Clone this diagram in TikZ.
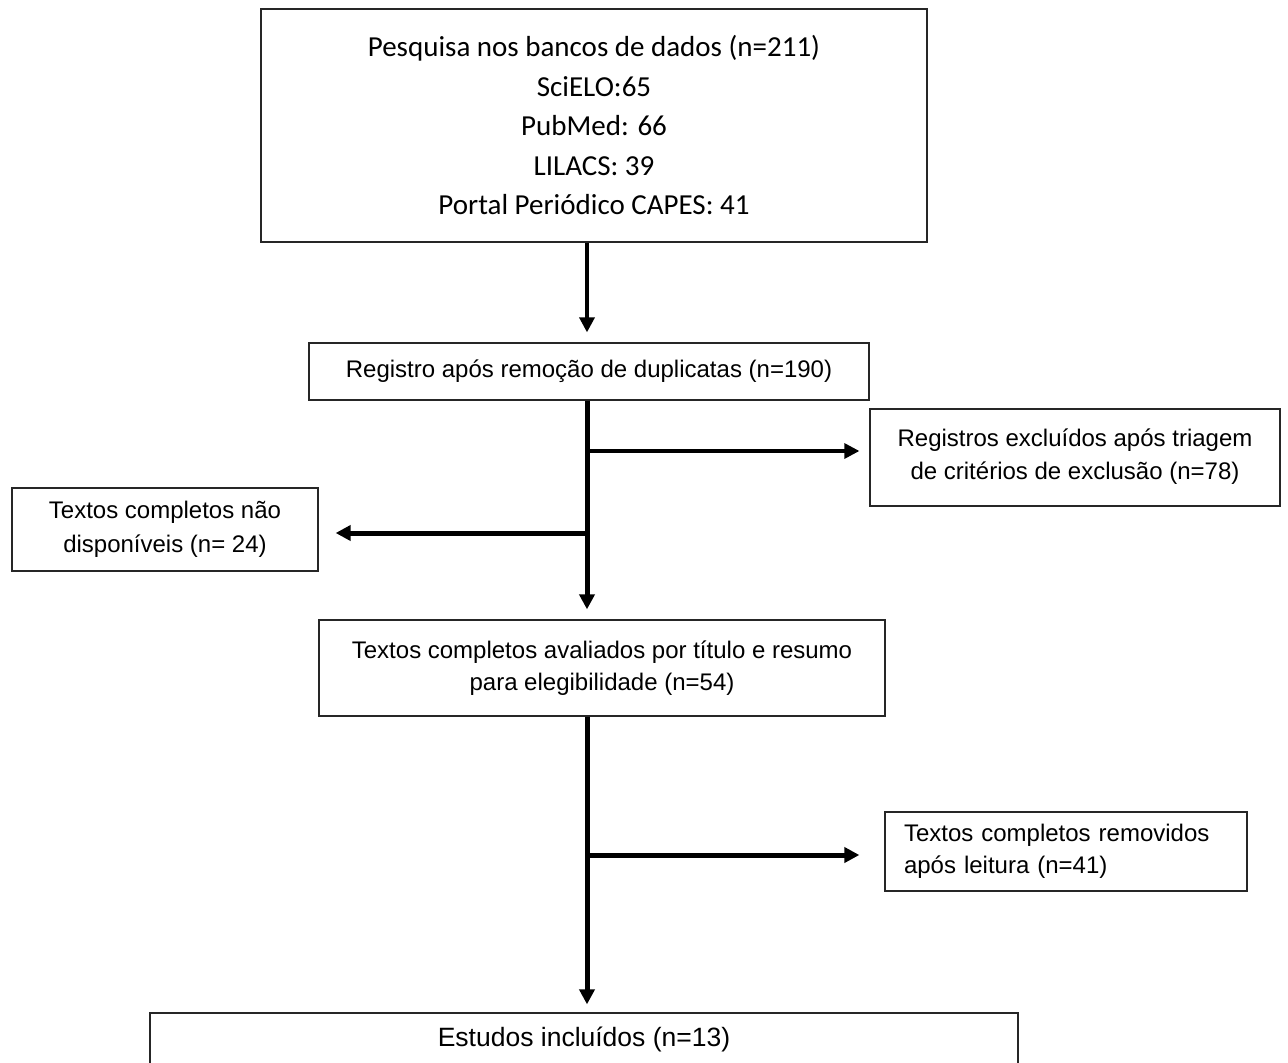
\documentclass[tikz,border=0pt]{standalone}
\usepackage{fontspec}
\setmainfont{Liberation Sans}
\newfontfamily\calfont{Carlito}
\usetikzlibrary{arrows.meta}
\tikzset{
  x=1pt,y=-1pt,
  box/.style={draw=black!85,line width=1.3pt,inner sep=0pt,align=center,font=\fontsize{24}{33}\selectfont},
  arr/.style={line width=#1,-{Triangle[length=15pt,width=15pt]}},
  arr/.default=4.5pt
}
\begin{document}
\begin{tikzpicture}
\useasboundingbox (0,0) rectangle (1288,1063);
\clip (0,0) rectangle (1288,1063);
\coordinate (sp) at (587,0);
\node[box,minimum width=666pt,minimum height=233pt,font=\calfont\fontsize{29}{39.5}\selectfont] (top) at (594,125.5)
  {Pesquisa nos bancos de dados (n=211)\\SciELO:65\\PubMed: 66\\LILACS: 39\\Portal Periódico CAPES: 41};
\node[box,minimum width=560pt,minimum height=57pt] (b2) at (589,371.5) {Registro após remoção de duplicatas (n=190)};
\node[box,minimum width=410pt,minimum height=97pt] (b3) at (1075,457.5) {Registros excluídos após triagem\\de critérios de exclusão (n=78)\\[-27pt]};
\node[box,minimum width=306pt,minimum height=83pt,font=\fontsize{24}{34}\selectfont] (b4) at (165,529.5) {Textos completos não\\disponíveis (n= 24)};
\node[box,minimum width=566pt,minimum height=96pt,font=\fontsize{24}{32}\selectfont] (b5) at (602,668) {Textos completos avaliados por título e resumo\\para elegibilidade (n=54)};
\node[box,minimum width=362pt,minimum height=79pt,inner xsep=19pt,text width=324pt,align=left,font=\fontsize{24}{32}\selectfont] (b6) at (1066,851.5) {Textos completos removidos\\após leitura (n=41)};
\node[box,minimum width=868pt,minimum height=52pt,font=\fontsize{26.5}{32}\selectfont] (b7) at (584,1039) {Estudos incluídos (n=13)};
\coordinate (j1) at (587,451);
\coordinate (j2) at (587,533);
\coordinate (j3) at (587,855);
\draw[arr=3.5pt,shorten >=10pt] (top.south -| sp) -- (b2.north -| sp);
\draw[arr=5pt,shorten >=10pt] (b2.south -| sp) -- (b5.north -| sp);
\draw[arr=3.2pt,shorten >=10pt] (j1) -- (j1 -| b3.west);
\draw[arr=5pt,shorten >=17pt] (j2) -- (j2 -| b4.east);
\draw[arr=5pt,shorten >=8pt] (b5.south -| sp) -- (b7.north -| sp);
\draw[arr=5pt,shorten >=25pt] (j3) -- (j3 -| b6.west);
\end{tikzpicture}
\end{document}
